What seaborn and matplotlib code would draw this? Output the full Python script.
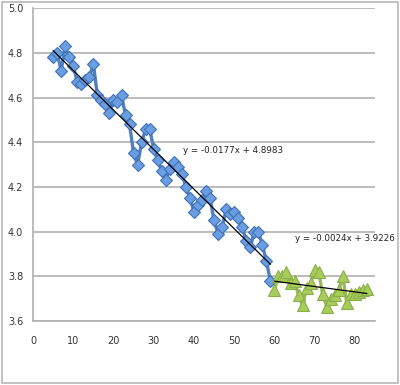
import matplotlib.pyplot as plt
import numpy as np
import pandas as pd
import seaborn as sns
from matplotlib.patches import Rectangle

# blue series (diamonds), x = 5..59
blue_x = list(range(5, 60))
blue_y = [4.78, 4.80, 4.72, 4.83, 4.78, 4.74, 4.67, 4.66, 4.68, 4.69,
          4.75, 4.61, 4.59, 4.57, 4.53, 4.59, 4.58, 4.61, 4.52, 4.48,
          4.35, 4.30, 4.40, 4.46, 4.46, 4.37, 4.32, 4.27, 4.23, 4.28,
          4.31, 4.29, 4.26, 4.20, 4.15, 4.09, 4.12, 4.14, 4.18, 4.15,
          4.05, 3.99, 4.02, 4.10, 4.08, 4.09, 4.06, 4.02, 3.96, 3.93,
          4.00, 4.00, 3.94, 3.87, 3.78]

# green series (triangles), x = 60..83
green_x = list(range(60, 84))
green_y = [3.74, 3.80, 3.80, 3.82, 3.77, 3.78, 3.715, 3.67, 3.75, 3.77,
           3.83, 3.82, 3.72, 3.665, 3.70, 3.715, 3.74, 3.80, 3.68, 3.72,
           3.72, 3.73, 3.74, 3.745]

# trendline coefficients (slope, intercept) as printed on the chart
blue_fit = (-0.0177, 4.8983)
green_fit = (-0.0024, 3.9226)
blue_label = "y = -0.0177x + 4.8983"
green_label = "y = -0.0024x + 3.9226"

x_ticks = [0, 10, 20, 30, 40, 50, 60, 70, 80]
y_ticks = [3.6, 3.8, 4.0, 4.2, 4.4, 4.6, 4.8, 5.0]

sns.set_style("white")
plt.rcParams['font.family'] = ['DejaVu Sans']

fig = plt.figure(figsize=(4.0, 3.85), dpi=100)
ax = fig.add_axes([0.0825, 0.166, 0.855, 0.813])

blue_df = pd.DataFrame({"x": blue_x, "y": blue_y})
green_df = pd.DataFrame({"x": green_x, "y": green_y})

sns.lineplot(data=blue_df, x="x", y="y", ax=ax, color="#4F81BD", lw=2.4,
             marker="D", markersize=6, markerfacecolor="#6A9DE2",
             markeredgecolor="#3F70B5", markeredgewidth=0.8, zorder=3)
sns.lineplot(data=green_df, x="x", y="y", ax=ax, color="#9BBB59", lw=2.4,
             marker="^", markersize=8, markerfacecolor="#A8CC5A",
             markeredgecolor="#8AAE48", markeredgewidth=0.8, zorder=3)

# linear trendlines
bx = np.array([blue_x[0], blue_x[-1]])
gx = np.array([green_x[0], green_x[-1]])
ax.plot(bx, blue_fit[0] * bx + blue_fit[1], color="black", lw=0.9, zorder=4)
ax.plot(gx, green_fit[0] * gx + green_fit[1], color="black", lw=0.9, zorder=4)

ax.text(37.2, 4.365, blue_label, fontsize=6.3, color="#222222", va="center")
ax.text(65.2, 3.97, green_label, fontsize=6.3, color="#222222", va="center")

ax.set_xlim(0, 85)
ax.set_ylim(3.6, 5.0)
ax.set_xticks(x_ticks)
ax.set_yticks(y_ticks)
ax.set_yticklabels([f"{v:.1f}" for v in y_ticks])
ax.set_xlabel("")
ax.set_ylabel("")

ax.yaxis.grid(True, color="#B0B0B0", lw=1.2)
ax.set_axisbelow(True)
for side in ["top", "right"]:
    ax.spines[side].set_visible(False)
for side in ["left", "bottom"]:
    ax.spines[side].set_color("#B0B0B0")
    ax.spines[side].set_linewidth(1.2)
ax.tick_params(axis="both", direction="out", length=3, width=1,
               color="#B0B0B0", labelsize=7, labelcolor="#333333")
ax.tick_params(axis="x", pad=8)
ax.tick_params(axis="y", pad=4)

# outer chart border
fig.patches.append(Rectangle((0.004, 0.004), 0.992, 0.992, transform=fig.transFigure,
                             fill=False, edgecolor="#B8B8B8", lw=1.2))

fig.savefig("out.png", dpi=100)
